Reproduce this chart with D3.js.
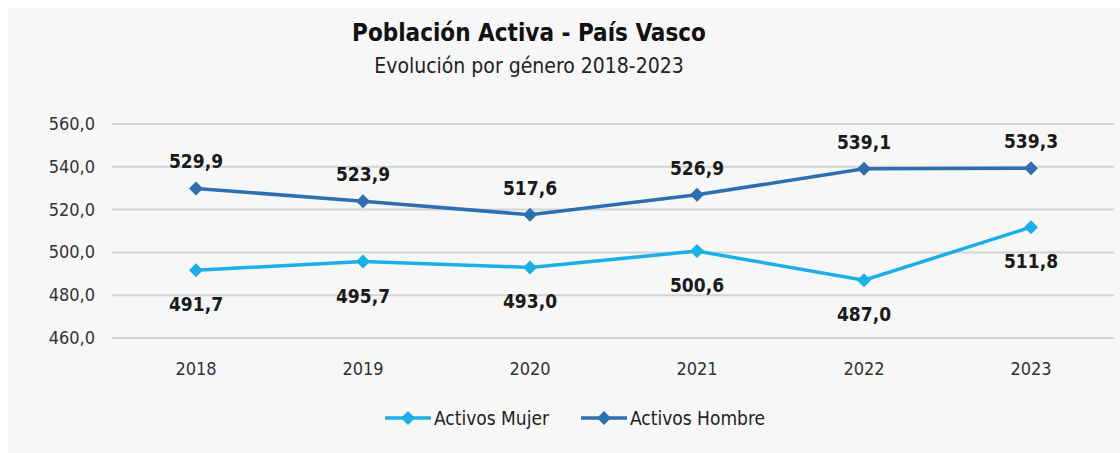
<!DOCTYPE html>
<html>
<head>
<meta charset="utf-8">
<script src="https://cdn.jsdelivr.net/npm/d3@7"></script>
<style>
  html, body { margin: 0; padding: 0; background: #fff; }
  svg { display: block; }
</style>
</head>
<body>
<svg id="chart"></svg>
<script>
// ===================== DATOS =====================
const years = ["2018", "2019", "2020", "2021", "2022", "2023"];
const mujer = [491.7, 495.7, 493.0, 500.6, 487.0, 511.8];
const hombre = [529.9, 523.9, 517.6, 526.9, 539.1, 539.3];
const yTicks = [460, 480, 500, 520, 540, 560];

const width = 1120;
const height = 453;
const font = "'DejaVu Sans Condensed', 'Open Sans', sans-serif";

const colorMujer = "#1cafe6";
const colorHombre = "#2e6fb0";

const svg = d3.select("#chart").attr("width", width).attr("height", height);

// fondo
svg.append("rect").attr("x", 8).attr("y", 8).attr("width", width - 8).attr("height", height - 8)
  .attr("fill", "#f7f7f7");

// ===================== ESCALAS =====================
const x = d3.scalePoint().domain(years).range([196, 1031]);
const y = d3.scaleLinear().domain([460, 560]).range([338, 124]);

// grid
svg.append("g").selectAll("line").data(yTicks).join("line")
  .attr("x1", 112).attr("x2", 1114)
  .attr("y1", d => y(d)).attr("y2", d => y(d))
  .attr("stroke", "#d4d4d4").attr("stroke-width", 2);

const fmt = v => d3.format(".1f")(v).replace(".", ",");

// eje Y
svg.append("g").selectAll("text").data(yTicks).join("text")
  .attr("x", 95).attr("y", d => y(d) + 6)
  .attr("text-anchor", "end")
  .attr("font-family", font).attr("font-size", 18).attr("fill", "#333")
  .text(d => fmt(d));

// eje X
svg.append("g").selectAll("text").data(years).join("text")
  .attr("x", d => x(d)).attr("y", 375)
  .attr("text-anchor", "middle")
  .attr("font-family", font).attr("font-size", 18).attr("fill", "#333")
  .text(d => d);

// ===================== LÍNEAS =====================
const line = d3.line().x((d, i) => x(years[i])).y(d => y(d));
const diamond = "M0,-7L7,0L0,7L-7,0Z";

function drawSeries(values, color, dy) {
  const gS = svg.append("g");
  gS.append("path").datum(values)
    .attr("d", line).attr("fill", "none")
    .attr("stroke", color).attr("stroke-width", 3.5);
  gS.selectAll("path.pt").data(values).join("path")
    .attr("class", "pt")
    .attr("d", diamond)
    .attr("transform", (d, i) => `translate(${x(years[i])},${y(d)})`)
    .attr("fill", color);
  gS.selectAll("text").data(values).join("text")
    .attr("x", (d, i) => x(years[i])).attr("y", d => y(d) + dy)
    .attr("text-anchor", "middle")
    .attr("font-family", font).attr("font-size", 19).attr("font-weight", "bold").attr("fill", "#1a1a1a")
    .text(d => fmt(d));
}

drawSeries(mujer, colorMujer, 41);
drawSeries(hombre, colorHombre, -20);

// ===================== TÍTULOS =====================
svg.append("text").attr("x", 529).attr("y", 41).attr("text-anchor", "middle")
  .attr("font-family", font).attr("font-size", 24).attr("font-weight", "bold").attr("fill", "#111")
  .text("Población Activa - País Vasco");
svg.append("text").attr("x", 529).attr("y", 73).attr("text-anchor", "middle")
  .attr("font-family", font).attr("font-size", 21).attr("fill", "#222")
  .text("Evolución por género 2018-2023");

// ===================== LEYENDA =====================
const legend = [
  { name: "Activos Mujer", color: colorMujer, x: 385 },
  { name: "Activos Hombre", color: colorHombre, x: 581 }
];
const lg = svg.append("g").selectAll("g").data(legend).join("g")
  .attr("transform", d => `translate(${d.x},418)`);
lg.append("line").attr("x1", 0).attr("x2", 46).attr("stroke", d => d.color).attr("stroke-width", 3.5);
lg.append("path").attr("d", diamond).attr("transform", "translate(23,0)").attr("fill", d => d.color);
lg.append("text").attr("x", 49).attr("y", 7)
  .attr("font-family", font).attr("font-size", 19).attr("fill", "#222")
  .text(d => d.name);
</script>
</body>
</html>
